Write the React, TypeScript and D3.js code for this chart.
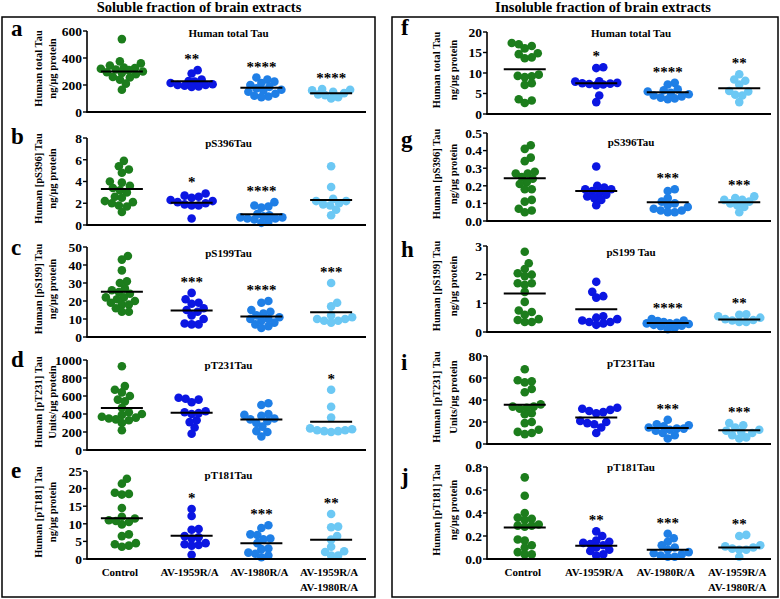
import React from "react";
import * as d3 from "d3";

// ---------- data ----------
const categories = ["Control", "AV-1959R/A", "AV-1980R/A", "AV-1959R/A\nAV-1980R/A"];
const groupColors = ["#1c7d1c", "#0b16e2", "#1f7fe6", "#6cc8f4"];

const columnTitles = ["Soluble fraction of brain extracts", "Insoluble fraction of brain extracts"];
const panelLetters = ["a", "b", "c", "d", "e", "f", "g", "h", "i", "j"];
const panelTitles = [
  "Human total Tau", "pS396Tau", "pS199Tau", "pT231Tau", "pT181Tau",
  "Human total Tau", "pS396Tau", "pS199 Tau", "pT231Tau", "pT181Tau",
];
const yTitleLine1 = [
  "Human total Tau", "Human [pS396] Tau", "Human [pS199] Tau", "Human [pT231] Tau", "Human [pT181] Tau",
  "Human total Tau", "Human [pS396] Tau", "Human [pS199] Tau", "Human [pT231] Tau", "Human [pT181] Tau",
];
const yTitleLine2 = [
  "ng/µg protein", "ng/µg protein", "ng/µg protein", "Units/µg protein", "ng/µg protein",
  "ng/µg protein", "ng/µg protein", "ng/µg protein", "Units/µg protein", "ng/µg protein",
];
const yMax = [600, 8, 50, 1000, 25, 20, 0.5, 3, 80, 0.8];
const yStep = [200, 2, 10, 200, 5, 5, 0.1, 1, 20, 0.2];
const yDecimals = [0, 0, 0, 0, 0, 0, 1, 0, 0, 1];

const solTotalTau = [
  [540, 375, 360, 345, 330, 325, 320, 315, 310, 300, 295, 290, 280, 260, 255, 240, 210, 165],
  [310, 285, 240, 230, 225, 215, 205, 200, 200, 195, 190, 185],
  [255, 240, 225, 215, 200, 185, 175, 165, 160, 150, 135, 120, 115, 110],
  [170, 165, 160, 150, 140, 130, 125, 110, 100],
];
const solS396 = [
  [5.9, 5.4, 5.1, 4.8, 4.0, 3.9, 3.6, 3.4, 3.2, 3.0, 2.6, 2.5, 2.2, 2.1, 2.0, 1.8, 1.7, 1.2],
  [2.9, 2.7, 2.6, 2.5, 2.3, 2.2, 2.1, 2.0, 1.9, 1.8, 1.8, 0.6],
  [2.1, 1.8, 1.7, 1.6, 1.0, 0.9, 0.8, 0.7, 0.7, 0.6, 0.6, 0.5, 0.3, 0.2],
  [5.4, 3.5, 2.4, 2.2, 2.2, 2.0, 1.9, 1.8, 1.4, 0.9],
];
const solS199 = [
  [45, 43, 37, 31, 30, 27, 26, 25, 24, 22, 22, 21, 20, 19, 18, 18, 16, 14, 14],
  [24.5, 21, 19, 18.5, 16, 15, 14, 12, 10, 7.5, 7, 7],
  [20, 19, 15, 14, 13, 12, 11, 10, 10, 9, 8, 7, 6, 5],
  [30, 19, 17, 12, 11, 10, 10, 9, 9, 8],
];
const solT231 = [
  [930, 710, 670, 640, 600, 560, 540, 470, 420, 400, 390, 370, 360, 350, 340, 330, 300, 220],
  [580, 570, 560, 530, 430, 420, 410, 400, 330, 310, 250, 180],
  [520, 500, 400, 390, 380, 350, 340, 320, 300, 260, 210, 200, 150],
  [670, 480, 360, 240, 230, 220, 220, 210, 210, 200],
];
const solT181 = [
  [22.8, 21.4, 18.8, 18.5, 18.3, 14.5, 12, 11.5, 11, 10.8, 10.5, 9.8, 7, 6.5, 4.5, 4.2, 3.8, 3.5],
  [14.2, 12.2, 8.5, 8.3, 6.5, 6.2, 5.8, 4.5, 4.2, 4.0, 3.8, 1.2],
  [9.6, 8.8, 7, 6.8, 5.8, 5.6, 4.5, 3.0, 2.8, 1.8, 1.5, 1.0, 0.5],
  [12.8, 9.2, 9.0, 6.5, 5.5, 3.5, 2.2, 2.0, 1.0, 1.0],
];
const insTotalTau = [
  [17.3, 17.0, 16.6, 16.0, 14.8, 14.6, 13.8, 13.6, 9.6, 9.3, 9.2, 9.0, 7.5, 7.1, 3.6, 3.3, 2.7],
  [11.4, 11.2, 8.0, 7.9, 7.6, 7.5, 7.4, 7.3, 7.2, 7.0, 4.5, 2.9],
  [7.6, 7.2, 6.0, 5.8, 5.5, 5.2, 4.8, 4.5, 4.3, 4.0, 3.8, 3.6],
  [9.7, 8.4, 8.1, 7.2, 5.6, 5.5, 4.7, 4.5, 2.9],
];
const insS396 = [
  [0.43, 0.41, 0.36, 0.34, 0.28, 0.27, 0.27, 0.25, 0.24, 0.22, 0.21, 0.18, 0.18, 0.12, 0.11, 0.07, 0.06, 0.05],
  [0.31, 0.2, 0.19, 0.18, 0.18, 0.17, 0.16, 0.15, 0.14, 0.13, 0.12, 0.09],
  [0.18, 0.17, 0.13, 0.11, 0.1, 0.09, 0.08, 0.07, 0.06, 0.06, 0.05, 0.05],
  [0.14, 0.13, 0.12, 0.12, 0.11, 0.1, 0.09, 0.08, 0.05],
];
const insS199 = [
  [2.8, 2.4, 2.2, 2.05, 2.0, 1.95, 1.7, 1.7, 1.65, 1.4, 1.05, 0.75, 0.7, 0.6, 0.45, 0.42, 0.35, 0.35],
  [1.75, 1.4, 1.25, 1.2, 0.55, 0.5, 0.45, 0.4, 0.35, 0.35, 0.3, 0.25],
  [0.45, 0.4, 0.38, 0.35, 0.32, 0.3, 0.3, 0.28, 0.25, 0.22, 0.2, 0.15, 0.1],
  [0.62, 0.6, 0.55, 0.5, 0.45, 0.42, 0.4, 0.35, 0.35],
];
const insT231 = [
  [68, 58, 57, 56, 50, 47, 36, 34, 34, 33, 32, 28, 27, 20, 19, 13, 11, 10, 9],
  [33, 32, 31, 30, 29, 28, 21, 20, 19, 18, 15, 10],
  [22, 18, 17, 16, 15, 14, 14, 13, 12, 10, 8, 5],
  [19, 17, 15, 13, 12, 11, 10, 8, 6, 5],
];
const insT181 = [
  [0.71, 0.55, 0.4, 0.36, 0.35, 0.34, 0.3, 0.29, 0.29, 0.28, 0.17, 0.16, 0.12, 0.1, 0.06, 0.04, 0.04],
  [0.24, 0.2, 0.16, 0.15, 0.14, 0.13, 0.12, 0.1, 0.08, 0.07, 0.04, 0.03],
  [0.22, 0.18, 0.15, 0.12, 0.1, 0.08, 0.06, 0.05, 0.04, 0.03, 0.02, 0.02],
  [0.21, 0.2, 0.12, 0.11, 0.1, 0.09, 0.08, 0.08, 0.02],
];
const panelValues = [solTotalTau, solS396, solS199, solT231, solT181, insTotalTau, insS396, insS199, insT231, insT181];

const panelMeans = [
  [300, 228, 180, 139],
  [3.3, 2.05, 0.98, 2.3],
  [25.2, 14.7, 11.4, 13.8],
  [467, 415, 340, 315],
  [11.6, 6.6, 4.5, 5.5],
  [10.9, 7.5, 5.3, 6.3],
  [0.243, 0.17, 0.106, 0.106],
  [1.34, 0.79, 0.31, 0.44],
  [35.6, 24.2, 14.5, 12.4],
  [0.275, 0.116, 0.08, 0.1],
];
const panelStars = [
  ["", "**", "****", "****"],
  ["", "*", "****", ""],
  ["", "***", "****", "***"],
  ["", "", "", "*"],
  ["", "*", "***", "**"],
  ["", "*", "****", "**"],
  ["", "", "***", "***"],
  ["", "", "****", "**"],
  ["", "", "***", "***"],
  ["", "**", "***", "**"],
];

// ---------- layout ----------
const W = 780;
const H = 599;
const FONT = "'Liberation Serif', 'Times New Roman', Times, serif";
const R = 4.3;
const SPREAD = 21;
const columns = [
  { axisX: 87, xEnd: 366, band: [87, 366], letterX: 11, yt1: 42, yt2: 56, box: [2, 375], titleX: 199 },
  { axisX: 487, xEnd: 771, band: [489, 775], letterX: 401, yt1: 440, yt2: 457, box: [392, 778], titleX: 603 },
];
const plotTop = [31, 138, 247, 360, 471, 32, 133, 246, 356, 467];
const plotBottom = [112, 225, 337, 450, 559, 114, 221, 332, 444, 559];
const letterBase = [36, 144, 255, 367, 478, 35, 147, 257, 370, 484];
const titleBase = [37, 147, 257, 369, 479, 37, 146, 256, 367, 471];

function swarmOffsets(ys: number[], r: number): number[] {
  const order = ys.map((_, i) => i).sort((a, b) => ys[b] - ys[a]);
  const placed: { x: number; y: number }[] = [];
  const out = new Array(ys.length).fill(0);
  const minD = r * 1.6;
  for (const i of order) {
    const y = ys[i];
    let chosen: number | null = null;
    let best = 0;
    let bestD = -1;
    for (let k = 0; k <= SPREAD * 2; k++) {
      const off = k === 0 ? 0 : k % 2 === 1 ? Math.ceil(k / 2) : -Math.ceil(k / 2);
      let dmin = Infinity;
      for (const p of placed) {
        const d = Math.hypot(p.x - off, p.y - y);
        if (d < dmin) dmin = d;
      }
      if (dmin >= minD) {
        chosen = off;
        break;
      }
      if (dmin > bestD) {
        bestD = dmin;
        best = off;
      }
    }
    const v = chosen === null ? best : chosen;
    placed.push({ x: v, y });
    out[i] = v;
  }
  return out;
}

function Panel({ idx }: { idx: number }) {
  const col = columns[idx < 5 ? 0 : 1];
  const top = plotTop[idx];
  const bottom = plotBottom[idx];
  const y = d3.scaleLinear().domain([0, yMax[idx]]).range([bottom, top]);
  const x = d3.scaleBand<string>().domain(categories).range(col.band as [number, number]);
  const ticks = d3.range(0, yMax[idx] + yStep[idx] / 2, yStep[idx]);
  const fmt = d3.format(`.${yDecimals[idx]}f`);
  const midY = (top + bottom) / 2 - 3;
  const showLabels = idx === 4 || idx === 9;
  return (
    <g>
      <text x={col.letterX} y={letterBase[idx]} fontFamily={FONT} fontWeight="bold" fontSize={23}>
        {panelLetters[idx]}
      </text>
      <text
        transform={`translate(${col.yt1},${midY}) rotate(-90)`}
        textAnchor="middle"
        fontFamily={FONT}
        fontWeight="bold"
        fontSize={10.5}
      >
        {yTitleLine1[idx]}
      </text>
      <text
        transform={`translate(${col.yt2},${midY}) rotate(-90)`}
        textAnchor="middle"
        fontFamily={FONT}
        fontWeight="bold"
        fontSize={10.5}
      >
        {yTitleLine2[idx]}
      </text>
      <text
        x={(col.axisX + col.xEnd) / 2 + 2}
        y={titleBase[idx]}
        textAnchor="middle"
        fontFamily={FONT}
        fontWeight="bold"
        fontSize={11}
      >
        {panelTitles[idx]}
      </text>
      {/* y axis */}
      <line x1={col.axisX} x2={col.axisX} y1={top} y2={bottom} stroke="#000" strokeWidth={1.6} />
      {ticks.map((t, i) => (
        <g key={i}>
          <line x1={col.axisX - 4} x2={col.axisX} y1={y(t)} y2={y(t)} stroke="#000" strokeWidth={1.4} />
          <text
            x={col.axisX - 5}
            y={y(t)}
            dy="0.36em"
            textAnchor="end"
            fontFamily={FONT}
            fontWeight="bold"
            fontSize={13.5}
          >
            {fmt(t)}
          </text>
        </g>
      ))}
      {/* dots */}
      {categories.map((c, gi) => {
        const vals = panelValues[idx][gi];
        const ys = vals.map((v) => y(v));
        const offs = swarmOffsets(ys, R);
        const cx = (x(c) as number) + x.bandwidth() / 2;
        return (
          <g key={c}>
            {vals.map((v, k) => (
              <circle key={k} cx={cx + offs[k]} cy={y(v)} r={R} fill={groupColors[gi]} />
            ))}
          </g>
        );
      })}
      {/* mean lines and stars */}
      {categories.map((c, gi) => {
        const cx = (x(c) as number) + x.bandwidth() / 2;
        const m = panelMeans[idx][gi];
        const maxV = d3.max(panelValues[idx][gi]) as number;
        return (
          <g key={c + "m"}>
            <line x1={cx - 21} x2={cx + 21} y1={y(m)} y2={y(m)} stroke="#000" strokeWidth={2} />
            {panelStars[idx][gi] && (
              <text
                x={cx}
                y={y(maxV) - 6}
                textAnchor="middle"
                fontFamily={FONT}
                fontWeight="bold"
                fontSize={15}
              >
                {panelStars[idx][gi]}
              </text>
            )}
          </g>
        );
      })}
      {/* x axis */}
      <line x1={col.axisX - 0.8} x2={col.xEnd} y1={bottom} y2={bottom} stroke="#000" strokeWidth={2.2} />
      {showLabels &&
        categories.map((c) => {
          const cx = (x(c) as number) + x.bandwidth() / 2 - 2;
          const lines = c.split("\n");
          return (
            <text key={c + "l"} textAnchor="middle" fontFamily={FONT} fontWeight="bold" fontSize={11}>
              {lines.map((ln, li) => (
                <tspan key={li} x={cx} y={bottom + 17 + li * 15}>
                  {ln}
                </tspan>
              ))}
            </text>
          );
        })}
    </g>
  );
}

export default function App() {
  return (
    <svg
      width={W}
      height={H}
      viewBox={`0 0 ${W} ${H}`}
      style={{ position: "absolute", left: 0, top: 0, background: "#fff" }}
    >
      <rect x={0} y={0} width={W} height={H} fill="#fff" />
      {columns.map((col, ci) => (
        <g key={ci}>
          <rect
            x={col.box[0]}
            y={17}
            width={col.box[1] - col.box[0]}
            height={580}
            fill="none"
            stroke="#000"
            strokeWidth={1.5}
          />
          <text
            x={col.titleX}
            y={12}
            textAnchor="middle"
            fontFamily={FONT}
            fontWeight="bold"
            fontSize={14.5}
          >
            {columnTitles[ci]}
          </text>
        </g>
      ))}
      {panelLetters.map((_, i) => (
        <Panel key={i} idx={i} />
      ))}
    </svg>
  );
}
